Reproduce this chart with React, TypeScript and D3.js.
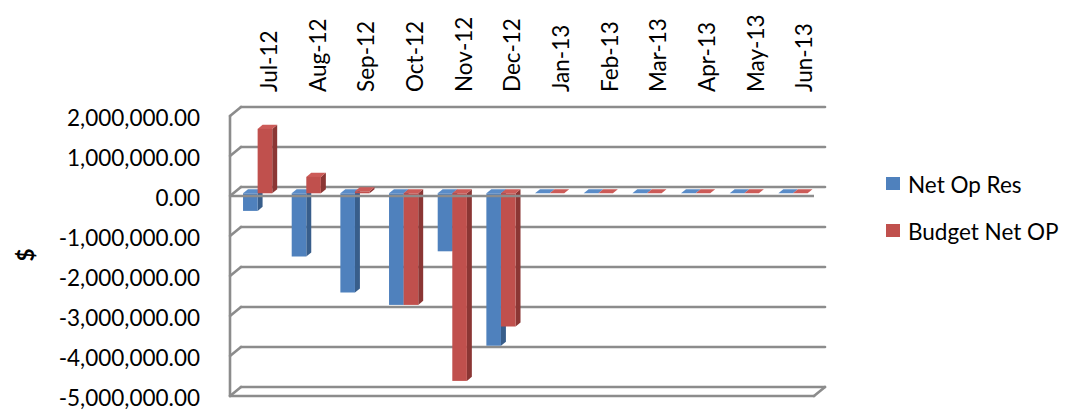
import React from "react";
import * as d3 from "d3";

const months = ["Jul-12","Aug-12","Sep-12","Oct-12","Nov-12","Dec-12","Jan-13","Feb-13","Mar-13","Apr-13","May-13","Jun-13"];
const netOpRes = [-440000, -1580000, -2480000, -2790000, -1450000, -3810000, 0, 0, 0, 0, 0, 0];
const budgetNetOp = [1610000, 410000, 50000, -2790000, -4690000, -3330000, 0, 0, 0, 0, 0, 0];
const yTicks = [2000000, 1000000, 0, -1000000, -2000000, -3000000, -4000000, -5000000];
const seriesNames = ["Net Op Res", "Budget Net OP"];

const FONT = "Lato, 'Open Sans', sans-serif";
const DX = 11, DY = 9;
const D1 = 0.3, D2 = 0.75;
const GRID = "#8c8c8c";

const colors = [
  { front: "#4f81bd", side: "#385e8b", top: "#5a8cc8" },
  { front: "#c0504d", side: "#8b3634", top: "#cc5b58" },
];

export default function App() {
  const x = d3.scaleBand<string>().domain(months).range([230, 814]).paddingInner(0).paddingOuter(0);
  const y = d3.scaleLinear().domain([-5000000, 2000000]).range([396, 116]);
  const bw = x.bandwidth();
  const P = (px: number, py: number, d: number) => `${px + d * DX},${py - d * DY}`;
  const f = d3.format(",.2f");
  const fmt = (v: number) => f(v).replace("\u2212", "-");
  const y0 = y(0);

  const bars: React.ReactNode[] = [];
  months.forEach((m, i) => {
    [netOpRes[i], budgetNetOp[i]].forEach((v, s) => {
      const c = colors[s];
      const xa = (x(m) as number) + bw * (0.2 + 0.3 * s);
      const xb = xa + bw * 0.3;
      const yv = y(v);
      const top = Math.min(yv, y0);
      const bot = Math.max(yv, y0);
      bars.push(
        <g key={`${m}-${s}`}>
          <polygon points={[P(xb, top, D1), P(xb, top, D2), P(xb, bot, D2), P(xb, bot, D1)].join(" ")} fill={c.side} />
          <polygon points={[P(xa, top, D1), P(xb, top, D1), P(xb, top, D2), P(xa, top, D2)].join(" ")} fill={c.top} />
          {bot - top > 0.1 && (
            <rect x={xa + D1 * DX} y={top - D1 * DY} width={xb - xa} height={bot - top} fill={c.front} />
          )}
        </g>
      );
    });
  });

  const xL = 230, xR = 814;
  return (
    <svg width={1068} height={412} style={{ position: "absolute", left: 0, top: 0, background: "#fff" }}>
      <g stroke={GRID} strokeWidth={2.6} fill="none" strokeLinecap="round">
        {yTicks.map((t) => (
          <g key={t}>
            <line x1={xL + DX} y1={y(t) - DY} x2={xR + DX} y2={y(t) - DY} />
            <line x1={xL} y1={y(t)} x2={xL + DX} y2={y(t) - DY} />
          </g>
        ))}
        <line x1={xL} y1={y(2000000)} x2={xL} y2={y(-5000000)} />
        <line x1={xL} y1={y(-5000000)} x2={xR} y2={y(-5000000)} />
        <line x1={xR} y1={y(-5000000)} x2={xR + DX} y2={y(-5000000) - DY} />
      </g>
      {bars}
      <line x1={xL} y1={y0} x2={xR} y2={y0} stroke={GRID} strokeWidth={2.6} />
      <g fontFamily={FONT} fontSize={22.5} fill="#000">
        {yTicks.map((t) => (
          <text key={t} x={200} y={y(t) + 1} textAnchor="end" dominantBaseline="central">
            {fmt(t)}
          </text>
        ))}
        {months.map((m) => (
          <text
            key={m}
            transform={`translate(${(x(m) as number) + bw / 2 + 14},92) rotate(-90)`}
            textAnchor="start"
            dominantBaseline="central"
          >
            {m}
          </text>
        ))}
        <text transform="translate(25,255) rotate(-90)" textAnchor="middle" dominantBaseline="central" fontWeight="bold">
          $
        </text>
        {seriesNames.map((n, s) => (
          <g key={n}>
            <rect x={886} y={177 + s * 47} width={14} height={13} fill={colors[s].front} />
            <text x={908} y={184 + s * 47} dominantBaseline="central">
              {n}
            </text>
          </g>
        ))}
      </g>
    </svg>
  );
}
